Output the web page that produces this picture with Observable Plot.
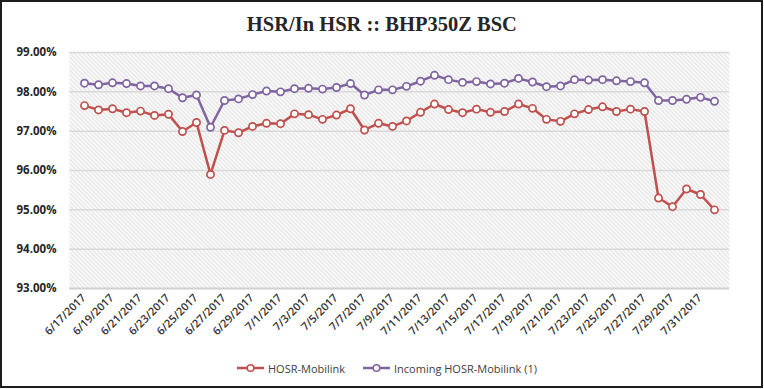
<!DOCTYPE html>
<html>
<head>
<meta charset="utf-8">
<script src="https://cdn.jsdelivr.net/npm/d3@7"></script>
<script src="https://cdn.jsdelivr.net/npm/@observablehq/plot@0.6"></script>
<style>
  html, body { margin: 0; padding: 0; background: #fff; }
  #wrap { position: relative; width: 764px; height: 389px; overflow: hidden; background: #fff; }
  #frame { position: absolute; left: 0; top: 0; width: 763px; height: 388px; box-sizing: border-box; border: 2px solid #1c1c1c; pointer-events: none; z-index: 5; }
  #title { position: absolute; left: 0; top: 11px; width: 764px; text-align: center; font-family: "Liberation Serif", serif; font-weight: bold; font-size: 22px; line-height: 26px; color: #262626; white-space: nowrap; }
  #title span { display: inline-block; transform-origin: center; }
  #chart { position: absolute; left: 0; top: 40px; }
  #legend { position: absolute; top: 359px; left: 0; width: 764px; height: 18px; font-family: "Open Sans", sans-serif; font-size: 11px; color: #404040; }
  .item { position: absolute; top: 0; display: flex; align-items: center; height: 18px; white-space: nowrap; }
  .item svg { margin-right: 3px; }
</style>
</head>
<body>
<div id="wrap">
  <div id="title"><span id="tt">HSR/In HSR :: BHP350Z BSC</span></div>
  <div id="chart"></div>
  <div id="legend"></div>
  <div id="frame"></div>
</div>
<script>
const dates = [
  "6/17/2017","6/18/2017","6/19/2017","6/20/2017","6/21/2017","6/22/2017","6/23/2017","6/24/2017","6/25/2017","6/26/2017",
  "6/27/2017","6/28/2017","6/29/2017","6/30/2017","7/1/2017","7/2/2017","7/3/2017","7/4/2017","7/5/2017","7/6/2017",
  "7/7/2017","7/8/2017","7/9/2017","7/10/2017","7/11/2017","7/12/2017","7/13/2017","7/14/2017","7/15/2017","7/16/2017",
  "7/17/2017","7/18/2017","7/19/2017","7/20/2017","7/21/2017","7/22/2017","7/23/2017","7/24/2017","7/25/2017","7/26/2017",
  "7/27/2017","7/28/2017","7/29/2017","7/30/2017","7/31/2017","8/1/2017"
];
const tickLabels = [
  "6/17/2017","6/19/2017","6/21/2017","6/23/2017","6/25/2017","6/27/2017","6/29/2017","7/1/2017",
  "7/3/2017","7/5/2017","7/7/2017","7/9/2017","7/11/2017","7/13/2017","7/15/2017","7/17/2017",
  "7/19/2017","7/21/2017","7/23/2017","7/25/2017","7/27/2017","7/29/2017","7/31/2017"
];
const hosrMobilink = [
  97.65,97.54,97.57,97.47,97.51,97.40,97.43,96.99,97.22,95.90,
  97.02,96.96,97.12,97.20,97.19,97.44,97.42,97.30,97.41,97.57,
  97.03,97.20,97.12,97.26,97.48,97.69,97.55,97.47,97.56,97.48,
  97.50,97.69,97.58,97.30,97.25,97.44,97.55,97.62,97.50,97.56,
  97.50,95.30,95.08,95.53,95.39,95.00
];
const incomingHosrMobilink = [
  98.22,98.18,98.23,98.21,98.15,98.15,98.08,97.85,97.92,97.10,
  97.78,97.82,97.93,98.02,98.00,98.08,98.09,98.07,98.11,98.21,
  97.92,98.05,98.05,98.14,98.27,98.42,98.31,98.24,98.26,98.20,
  98.22,98.34,98.25,98.13,98.15,98.31,98.30,98.31,98.28,98.26,
  98.23,97.78,97.78,97.81,97.86,97.76
];
const yTicks = [93, 94, 95, 96, 97, 98, 99];
const seriesNames = ["HOSR-Mobilink", "Incoming HOSR-Mobilink (1)"];
const seriesColors = ["#C0504D", "#8064A2"];

const rows = [];
dates.forEach((d, i) => {
  rows.push({date: d, value: hosrMobilink[i], series: seriesNames[0]});
  rows.push({date: d, value: incomingHosrMobilink[i], series: seriesNames[1]});
});

const fmt = v => v.toFixed(2) + "%";

const chart = Plot.plot({
  width: 764,
  height: 305,
  marginLeft: 69,
  marginRight: 35,
  marginTop: 12,
  marginBottom: 57,
  style: {fontFamily: "'Open Sans', sans-serif", background: "transparent", overflow: "visible"},
  x: {type: "point", domain: dates, padding: 0.42, axis: null},
  y: {domain: [93, 99], axis: null},
  color: {domain: seriesNames, range: seriesColors},
  marks: [
    Plot.frame({fill: "url(#hatch)", stroke: null}),
    Plot.ruleY(yTicks.filter(t => t !== 93), {stroke: "#d9d9d9", strokeWidth: 1.5}),
    Plot.ruleY([93], {stroke: "#d0d0d0", strokeWidth: 2}),
    Plot.text(yTicks, {y: d => d, frameAnchor: "left", dx: -13, textAnchor: "end", text: fmt,
      fontSize: 11.5, fontWeight: "bold", fill: "#262626"}),
    Plot.text(tickLabels, {x: d => d, frameAnchor: "bottom", rotate: -45, textAnchor: "end",
      dx: 2, dy: 10, text: d => d, fontSize: 11, fontWeight: 600, fill: "#333"}),
    Plot.line(rows, {x: "date", y: "value", z: "series", stroke: "series", strokeWidth: 2.5}),
    Plot.dot(rows, {x: "date", y: "value", stroke: "series", fill: "white", r: 3.6, strokeWidth: 1.7})
  ]
});

const defs = d3.select(chart).insert("defs", ":first-child");
const pat = defs.append("pattern")
  .attr("id", "hatch").attr("patternUnits", "userSpaceOnUse")
  .attr("width", 3).attr("height", 3)
  .attr("patternTransform", "rotate(-45)");
pat.append("rect").attr("width", 3).attr("height", 3).attr("fill", "#fff");
pat.append("line").attr("x1", 1).attr("y1", 0).attr("x2", 1).attr("y2", 3)
  .attr("stroke", "#d8d8d8").attr("stroke-width", 1);

document.getElementById("chart").appendChild(chart);

// legend
const legend = document.getElementById("legend");
const legendX = [237, 363];
seriesNames.forEach((name, i) => {
  const item = document.createElement("div");
  item.className = "item";
  item.style.left = legendX[i] + "px";
  item.innerHTML = `<svg width="28" height="12"><line x1="0" y1="6" x2="27" y2="6" stroke="${seriesColors[i]}" stroke-width="2.5"/><circle cx="13.5" cy="6" r="3.3" fill="white" stroke="${seriesColors[i]}" stroke-width="1.6"/></svg><span>${name}</span>`;
  legend.appendChild(item);
});

// fit title width
const tt = document.getElementById("tt");
const w = tt.getBoundingClientRect().width;
if (w > 0) tt.style.transform = `scaleX(${270 / w})`;
</script>
</body>
</html>
